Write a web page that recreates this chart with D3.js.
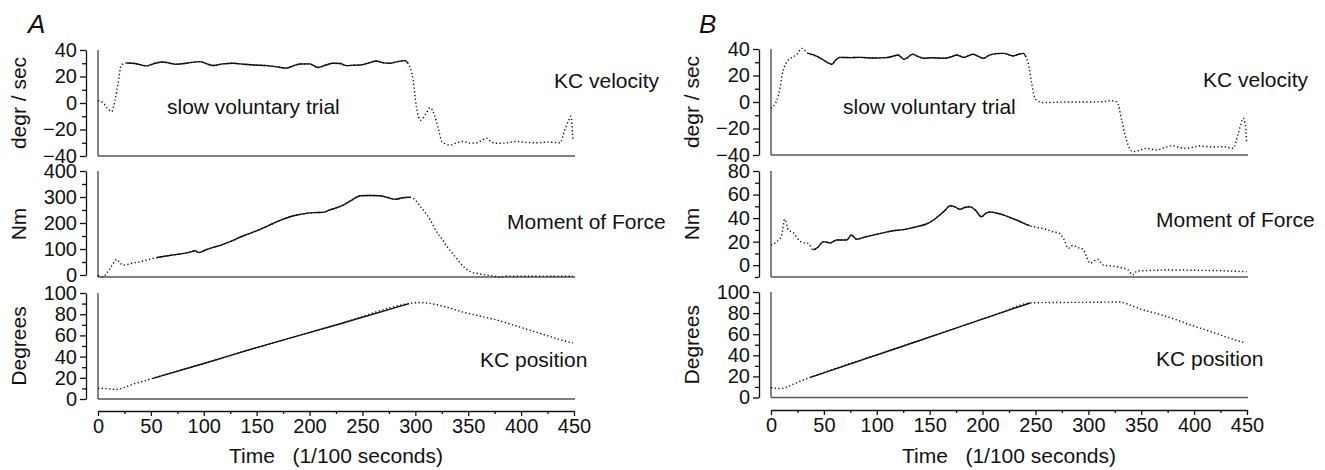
<!DOCTYPE html>
<html>
<head>
<meta charset="utf-8">
<script src="https://cdn.jsdelivr.net/npm/d3@7"></script>
<style>
  body { margin: 0; background: #fff; }
  svg text { font-family: "Liberation Sans", Arial, Helvetica, sans-serif; fill: #111; }
  .axis path, .axis line { stroke: #111; stroke-width: 1.3; }
  .axis text { font-size: 20px; }
</style>
</head>
<body>
<script>
// time axis (1/100 s)
var timeTicks = [0, 50, 100, 150, 200, 250, 300, 350, 400, 450];
var timeMinor = [25, 75, 125, 175, 225, 275, 325, 375, 425];

var velTicks = [-40, -20, 0, 20, 40];
var velMinor = [-30, -10, 10, 30];
var aMomTicks = [0, 100, 200, 300, 400];
var aMomMinor = [50, 150, 250, 350];
var bMomTicks = [0, 20, 40, 60, 80];
var bMomMinor = [-10, 10, 30, 50, 70];
var posTicks = [0, 20, 40, 60, 80, 100];
var posMinor = [10, 30, 50, 70, 90];

// panel A : [time, value]
var aVelocity = [[0,2],[5,0],[9,-4],[13,-6.5],[16,2],[19,15],[22,28.5],[27,30.2],[35,29.8],[46,28],[54,30],[61,31],[68,30],[74,29.3],[85,30.2],[96,31.2],[103,29.5],[109,28.3],[118,29.5],[128,30],[138,29.2],[147,28.7],[160,28.2],[170,27.2],[178,26.3],[185,28.2],[191,29.4],[200,29.5],[208,26.8],[215,28.5],[222,30],[229,29.8],[235,28.2],[242,28.5],[248,28.7],[255,30],[263,31.7],[270,30.3],[276,30],[283,31.2],[290,32],[293,30],[298,17],[301,-3],[305,-13],[310,-8],[314,-3.5],[318,-9],[322,-20],[325,-29],[333,-31.7],[339,-30],[345,-29],[352,-30.3],[358,-30],[363,-28],[367,-26.5],[372,-29.5],[377,-30.4],[387,-30],[396,-29],[405,-29.8],[415,-30],[425,-29.5],[437,-30],[441,-21],[445,-13],[447,-10],[449,-28]];
var aMoment = [[0,-2],[5,-7],[8,6],[13,35],[17.7,60],[21,45],[24,38],[32,45],[40,51],[48,60],[55.5,67],[66,74],[77.5,81],[85,86],[92,93],[95,86],[102,97],[109,106],[117,116],[125,128],[137,150],[150,170],[158,184],[166,199],[174,213],[181.5,224],[190,232],[197,237],[205,240],[213,241],[219,250],[225,258],[232,269],[240,288],[248,305],[257,306],[266,305],[274,298],[281,291],[288,297],[295,299],[300,288],[305,262],[311,231],[316,198],[320,167],[325,140],[330,109],[335,84],[339,64],[345,35],[352,13],[360,5],[367,0],[374,-4],[380,-9],[386,-4],[400,-5],[420,-4.5],[435,-5],[449,-5]];
var aPosition = [[0,10],[8,9.8],[17.7,9],[25,11],[33,14],[42,16.5],[52,19.5],[100,33.5],[150,48.5],[229,71],[294,90],[300,90.8],[304,91],[312,90.4],[320,89],[332,86],[345,82],[360,78.5],[377,74.5],[392,70],[408,65],[424,60],[440,55],[449,53]];

// panel B
var bVelocity = [[0,-5],[2,-3.5],[7,5],[11.6,24],[16.4,31.7],[21,34],[25,36.5],[29,40.5],[35,36.7],[43,34.7],[49.6,31.7],[54,29.5],[57.4,28.5],[61,31.5],[65,33.7],[75,33.5],[84,33.7],[97,33.2],[109,33.5],[115,34.5],[120,35.5],[126,32.2],[134,36],[140,34],[144,33],[153,33.4],[163,33],[170,34],[175.5,35.5],[182,33.7],[191,36],[196,34.5],[200.6,33],[207,35.5],[213,36.5],[220,36.7],[229,34.7],[235,36.2],[238.7,36.7],[241,34],[243.5,28],[246.5,14],[249,4],[251,1.5],[258,-0.5],[270,-0.2],[285,0],[300,0],[315,0.3],[320.5,1],[327,0.2],[331.5,-13.6],[336,-28.7],[342,-37.5],[348,-36.5],[355,-35],[364.6,-36.2],[372,-34.5],[380,-33],[387,-34.5],[393,-35],[400,-34],[405.6,-33.2],[417,-34],[427.6,-33.7],[437,-35],[441.8,-23.6],[446.5,-12.3],[448.5,-18],[449.7,-31]];
var bMoment = [[0,17],[5.4,20],[10,25],[13,39],[16.4,30],[21,27.6],[27,20.8],[31,19],[35,18.6],[40,13],[44,15],[49.6,20],[56,19],[62,21.4],[71.5,21.4],[76,25.6],[81,22],[89,24],[96.5,25.6],[106,27.5],[115.5,29.3],[123,30],[131,31.3],[139,33],[147,35],[153,38],[159.6,42.6],[165,47],[169,50.5],[174,49.5],[178.5,47.5],[183,49],[188,49.7],[193,47],[199,41.2],[203,44],[207,45.2],[216.5,43.5],[220,42.6],[226,40.5],[232,38.4],[238,36],[244.6,33.6],[252,32],[260,30.5],[266,28.5],[273,27],[277,22],[281,14.3],[285.5,17],[290,15],[295,13.5],[298,8],[301.6,1.6],[306,4],[309,5],[314,0.2],[320,-0.5],[327,-1.3],[333,-2.5],[337.6,-4],[342,-8.3],[346,-5],[352,-4.7],[365,-4.3],[380,-4],[400,-4.3],[420,-4.5],[435,-5],[449.6,-5.5]];
var bPosition = [[0,9.5],[8.5,8.5],[15,10],[21,12.6],[29,16],[37,19],[130,50.5],[216.5,80],[245,89.6],[260,90],[300,90.2],[330,90.5],[340,87.5],[349,84],[365,79.5],[380,74.8],[396,69],[412,63.7],[430,57.5],[448,51.7]];

// time windows drawn as a continuous trace
var aSolid = { vel: [27, 293], mom: [55, 298], pos: [52, 294] };
var bSolid = { vel: [35, 243], mom: [40, 245], pos: [37, 245] };

var width = 1325, height = 470;

var svg = d3.select("body").append("svg")
    .attr("width", width)
    .attr("height", height);

function drawPanel(o) {
    var x = d3.scaleLinear().domain([0, 450]).range([o.left, o.left + 476]);
    var g = svg.append("g");

    g.append("text")
        .attr("x", o.letterX).attr("y", 33)
        .style("font-size", "26px").style("font-style", "italic")
        .text(o.letter);

    o.rows.forEach(function (r) {
        var y = d3.scaleLinear().domain(r.domain).range(r.range);
        var axisX = o.left - 12;

        g.append("g").attr("class", "axis")
            .attr("transform", "translate(" + axisX + ",0)")
            .call(d3.axisLeft(y).tickValues(r.ticks).tickSize(6).tickPadding(3).tickSizeOuter(0));
        var mn = g.append("g").attr("class", "axis")
            .attr("transform", "translate(" + axisX + ",0)")
            .call(d3.axisLeft(y).tickValues(r.minor).tickSize(4).tickFormat(""));
        mn.select(".domain").remove();

        // frame
        g.append("line")
            .attr("x1", o.left).attr("x2", o.left)
            .attr("y1", r.range[1]).attr("y2", r.bottom)
            .attr("stroke", "#222").attr("stroke-width", 1.1);
        g.append("line")
            .attr("x1", o.left).attr("x2", x(450) + 1)
            .attr("y1", r.bottom).attr("y2", r.bottom)
            .attr("stroke", "#555").attr("stroke-width", 1.5);

        var line = d3.line()
            .x(function (d) { return x(d[0]); })
            .y(function (d) { return y(d[1]); })
            .curve(d3.curveMonotoneX);

        g.append("path")
            .attr("d", line(r.data))
            .attr("fill", "none").attr("stroke", "#111")
            .attr("stroke-width", 1.4)
            .attr("stroke-dasharray", "1.3,2.4");
        var solid = r.data.filter(function (d) { return d[0] >= r.solid[0] && d[0] <= r.solid[1]; });
        g.append("path")
            .attr("d", line(solid))
            .attr("fill", "none").attr("stroke", "#111")
            .attr("stroke-width", 1.4);

        g.append("text")
            .attr("transform", "translate(" + (axisX - 60) + "," + ((r.range[1] + r.bottom) / 2) + ") rotate(-90)")
            .attr("text-anchor", "middle")
            .style("font-size", "21px")
            .text(r.title);

        r.notes.forEach(function (n) {
            g.append("text")
                .attr("x", n[1]).attr("y", n[2])
                .style("font-size", "21px")
                .text(n[0]);
        });
    });

    var xa = g.append("g").attr("class", "axis")
        .attr("transform", "translate(0," + o.xAxisY + ")")
        .call(d3.axisBottom(x).tickValues(timeTicks).tickSize(5).tickPadding(3).tickSizeOuter(0));
    xa.selectAll("text").attr("dy", "0.71em");
    var xm = g.append("g").attr("class", "axis")
        .attr("transform", "translate(0," + o.xAxisY + ")")
        .call(d3.axisBottom(x).tickValues(timeMinor).tickSize(3).tickFormat(""));
    xm.select(".domain").remove();

    g.append("text")
        .attr("x", x(225)).attr("y", 463)
        .attr("text-anchor", "middle")
        .style("font-size", "21px")
        .style("white-space", "pre")
        .text("Time   (1/100 seconds)");
}

drawPanel({
    letter: "A", letterX: 28, left: 98, xAxisY: 411,
    rows: [
        { domain: [-40, 40], range: [156, 50], bottom: 156, ticks: velTicks, minor: velMinor,
          data: aVelocity, solid: aSolid.vel, title: "degr / sec",
          notes: [["slow voluntary trial", 167, 114], ["KC velocity", 554, 88]] },
        { domain: [0, 400], range: [275, 171], bottom: 277, ticks: aMomTicks, minor: aMomMinor,
          data: aMoment, solid: aSolid.mom, title: "Nm",
          notes: [["Moment of Force", 507, 229]] },
        { domain: [0, 100], range: [399, 293], bottom: 399, ticks: posTicks, minor: posMinor,
          data: aPosition, solid: aSolid.pos, title: "Degrees",
          notes: [["KC position", 480, 367]] }
    ]
});

drawPanel({
    letter: "B", letterX: 699, left: 771, xAxisY: 410,
    rows: [
        { domain: [-40, 40], range: [155, 49], bottom: 155, ticks: velTicks, minor: velMinor,
          data: bVelocity, solid: bSolid.vel, title: "degr / sec",
          notes: [["slow voluntary trial", 843, 114], ["KC velocity", 1203, 87]] },
        { domain: [-10, 80], range: [277, 171], bottom: 277, ticks: bMomTicks, minor: bMomMinor,
          data: bMoment, solid: bSolid.mom, title: "Nm",
          notes: [["Moment of Force", 1156, 227]] },
        { domain: [0, 100], range: [397.5, 292], bottom: 397.5, ticks: posTicks, minor: posMinor,
          data: bPosition, solid: bSolid.pos, title: "Degrees",
          notes: [["KC position", 1156, 366]] }
    ]
});
</script>
</body>
</html>
